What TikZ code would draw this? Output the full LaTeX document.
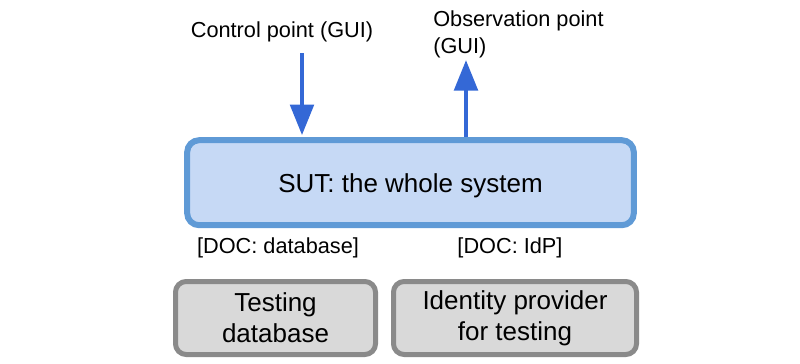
\documentclass[tikz,border=0pt]{standalone}
\usepackage{fontspec}
\setmainfont{Liberation Sans}
\usetikzlibrary{arrows.meta}

\definecolor{sutfill}{HTML}{C6D9F5}
\definecolor{sutline}{HTML}{5F9AD6}
\definecolor{guiblue}{HTML}{3468D6}
\definecolor{docfill}{HTML}{D9D9D9}
\definecolor{docline}{HTML}{8A8A8A}

\begin{document}
\begin{tikzpicture}[x=0.75pt,y=-0.75pt,
  bigtext/.style={font=\fontsize{19.5}{23.25}\selectfont},
  smalltext/.style={font=\fontsize{16.3}{20.25}\selectfont},
  sutbox/.style={draw=sutline,fill=sutfill,line width=4.5pt,rounded corners=9pt,
    minimum width=335pt,minimum height=63.75pt,text depth=0pt,bigtext},
  docbox/.style={draw=docline,fill=docfill,line width=3.75pt,rounded corners=8pt,
    minimum height=54.75pt,align=center,bigtext},
  guiarrow/.style={draw=guiblue,line width=3.4pt,-{Triangle[width=17.5pt,length=23pt]}}]

\useasboundingbox (0,0) rectangle (800,364);

\node[sutbox] (sut) at (410.5,182.7) {SUT: the whole system};

\node[docbox,minimum width=150pt] (testdb) at (275.5,318) {Testing\\database};
\node[docbox,minimum width=182.25pt] (testidp) at (515,318) {Identity provider\\for testing};

\node[smalltext,anchor=base] (ctrl) at (282,37) {Control point (GUI)};
\node[smalltext,anchor=west,align=left,inner sep=0pt] (obs) at (433,34) {Observation point\\(GUI)};

\node[smalltext,anchor=base] (docdb) at (278,253) {[DOC: database]};
\node[smalltext,anchor=base] (docidp) at (510,253) {[DOC: IdP]};

\coordinate (ctrlin) at (302,53);
\coordinate (obsout) at (466,60);

\draw[guiarrow,shorten >=1.5pt] (ctrlin) -- (ctrlin |- sut.north);
\draw[guiarrow] (obsout |- sut.north) -- (obsout);

\end{tikzpicture}
\end{document}
